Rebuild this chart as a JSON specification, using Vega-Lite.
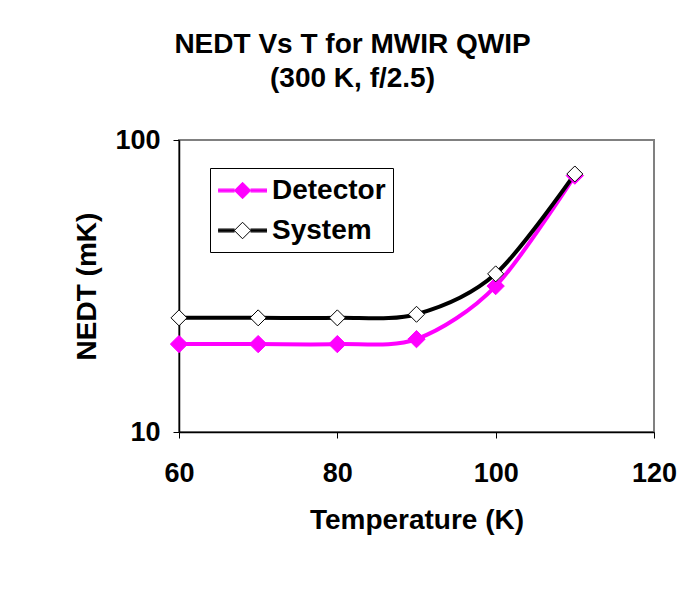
{
  "$schema": "https://vega.github.io/schema/vega-lite/v6.json",
  "width": 475,
  "height": 292,
  "padding": {"left": 179, "top": 140, "right": 39, "bottom": 169},
  "autosize": {"type": "none"},
  "background": "white",
  "config": {
    "font": "Liberation Sans",
    "view": {"stroke": "#808080", "strokeWidth": 2},
    "axis": {"labelFont": "Liberation Sans", "titleFont": "Liberation Sans", "labelFontWeight": "bold", "titleFontWeight": "bold", "labelColor": "black", "titleColor": "black", "domainColor": "black", "tickColor": "black", "grid": false, "labelFlush": false}
  },
  "title": {
    "text": ["NEDT  Vs T for MWIR  QWIP", "(300 K, f/2.5)"],
    "font": "Liberation Sans",
    "fontSize": 28,
    "fontWeight": "bold",
    "color": "black",
    "lineHeight": 34,
    "anchor": "middle",
    "dx": -64,
    "offset": 33
  },
  "data": {
    "values": [
      {"T": 60, "NEDT": 20.0, "series": "Detector"},
      {"T": 70, "NEDT": 20.0, "series": "Detector"},
      {"T": 80, "NEDT": 20.0, "series": "Detector"},
      {"T": 90, "NEDT": 20.8, "series": "Detector"},
      {"T": 100, "NEDT": 31.6, "series": "Detector"},
      {"T": 110, "NEDT": 75.5, "series": "Detector"},
      {"T": 60, "NEDT": 24.6, "series": "System"},
      {"T": 70, "NEDT": 24.6, "series": "System"},
      {"T": 80, "NEDT": 24.6, "series": "System"},
      {"T": 90, "NEDT": 25.3, "series": "System"},
      {"T": 100, "NEDT": 34.8, "series": "System"},
      {"T": 110, "NEDT": 76.5, "series": "System"}
    ]
  },
  "encoding": {
    "x": {
      "field": "T", "type": "quantitative",
      "scale": {"domain": [60, 120], "nice": false},
      "axis": {"values": [60, 80, 100, 120], "title": "Temperature (K)", "labelFontSize": 27, "titleFontSize": 28, "labelPadding": 22, "titlePadding": 20, "tickSize": 6, "domainWidth": 1.5}
    },
    "y": {
      "field": "NEDT", "type": "quantitative",
      "scale": {"type": "log", "domain": [10, 100], "nice": false},
      "axis": {"values": [10, 100], "format": "d", "title": "NEDT (mK)", "labelFontSize": 27, "titleFontSize": 28, "labelPadding": 13, "titlePadding": 13, "tickSize": 6, "domainWidth": 1.5}
    }
  },
  "layer": [
    {
      "mark": {"type": "line", "interpolate": "cardinal", "tension": 0.1, "strokeWidth": 4},
      "encoding": {
        "color": {
          "field": "series", "type": "nominal",
          "scale": {"domain": ["Detector", "System"], "range": ["#FF00FF", "black"]},
          "legend": {
            "title": null,
            "orient": "none",
            "legendX": 31,
            "legendY": 28,
            "direction": "vertical",
            "strokeColor": "black",
            "fillColor": "white",
            "padding": 7,
            "symbolType": "M-0.96,-0.1H0.14M-0.96,-0.05H0.14M-0.96,0H0.14M-0.96,0.05H0.14M-0.96,0.1H0.14M1.2,-0.1H2.3M1.2,-0.05H2.3M1.2,0H2.3M1.2,0.05H2.3M1.2,0.1H2.3M0.67,-0.55L1.22,0L0.67,0.55L0.12,0Z",
            "symbolSize": 900,
            "symbolStrokeWidth": 1,
            "symbolOpacity": 1,
            "labelFont": "Liberation Sans",
            "labelFontSize": 28,
            "labelFontWeight": "bold",
            "labelColor": "black",
            "labelOffset": 24,
            "rowPadding": 10,
            "encode": {
              "symbols": {
                "update": {
                  "fill": {"signal": "datum.value === 'System' ? 'white' : '#FF00FF'"},
                  "fillOpacity": {"value": 1}
                }
              }
            }
          }
        }
      }
    },
    {
      "transform": [{"filter": "datum.series === 'Detector'"}],
      "mark": {"type": "point", "shape": "diamond", "filled": true, "opacity": 1, "fill": "#FF00FF", "stroke": "#FF00FF", "strokeWidth": 1, "size": 300}
    },
    {
      "transform": [{"filter": "datum.series === 'System'"}],
      "mark": {"type": "point", "shape": "diamond", "filled": true, "opacity": 1, "fill": "white", "stroke": "black", "strokeWidth": 1, "size": 256}
    }
  ]
}
